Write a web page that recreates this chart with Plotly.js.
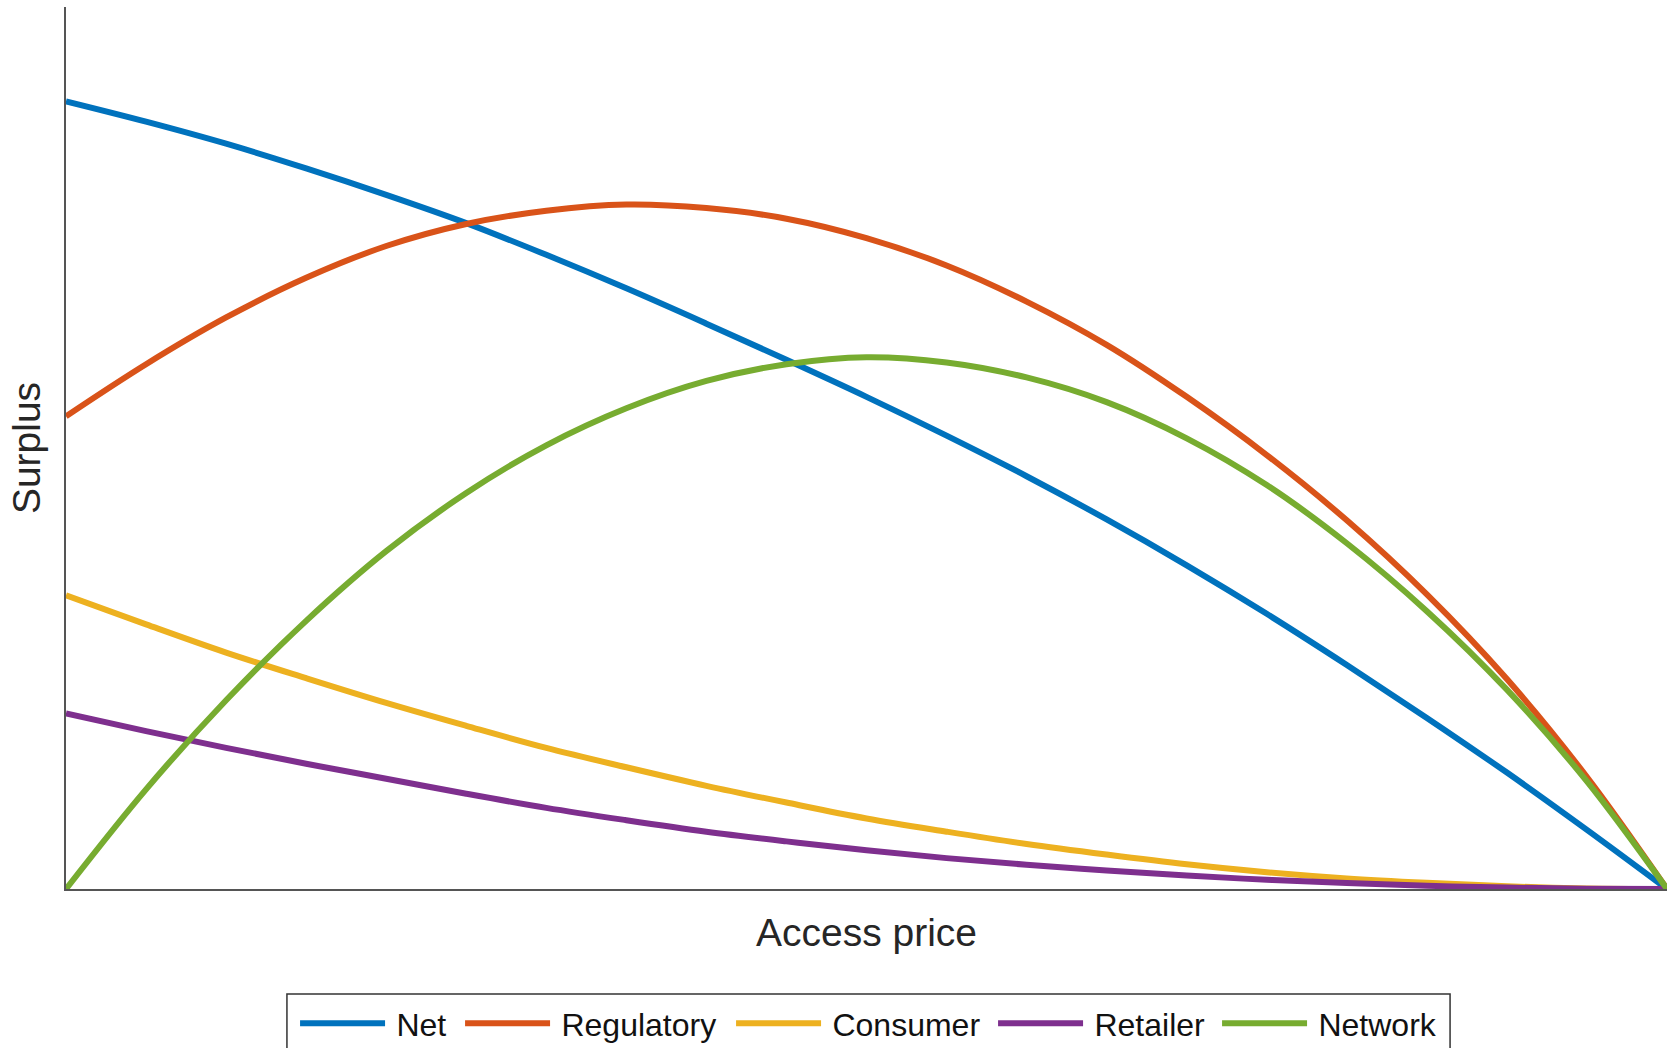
<!DOCTYPE html>
<html>
<head>
<meta charset="utf-8">
<script src="https://cdn.plot.ly/plotly-3.0.1.min.js"></script>
<style>html,body{margin:0;padding:0;background:#fff;}#chart{width:1667px;height:1048px;}</style>
</head>
<body>
<div id="chart"></div>
<script>
// Access price (normalised 0..1)
const accessPrice = [0,0.05,0.1,0.15,0.2,0.25,0.3,0.35,0.4,0.45,0.5,0.55,0.6,0.65,0.7,0.75,0.8,0.85,0.9,0.95,1];
// Surplus series (normalised)
const netSurplus        = [0.893,0.870,0.845,0.817,0.787,0.755,0.719,0.681,0.641,0.600,0.558,0.514,0.468,0.419,0.367,0.312,0.254,0.194,0.132,0.067,0];
const regulatorySurplus = [0.536,0.595,0.648,0.693,0.729,0.754,0.769,0.776,0.772,0.760,0.738,0.707,0.666,0.617,0.558,0.492,0.418,0.334,0.238,0.127,0];
const consumerSurplus   = [0.333,0.300,0.268,0.239,0.211,0.185,0.160,0.138,0.117,0.098,0.080,0.065,0.051,0.039,0.028,0.019,0.012,0.007,0.003,0.0007,0];
const retailerSurplus   = [0.199,0.179,0.160,0.142,0.125,0.108,0.092,0.078,0.065,0.054,0.044,0.035,0.0275,0.021,0.0152,0.0105,0.0068,0.0037,0.0016,0.0004,0];
const networkSurplus    = [0,0.113,0.214,0.304,0.383,0.449,0.503,0.545,0.576,0.595,0.603,0.597,0.580,0.552,0.511,0.458,0.392,0.315,0.226,0.122,0];
const seriesNames = ["Net","Regulatory","Consumer","Retailer","Network"];
const seriesColors = ["#0072BD","#D95319","#EDB120","#7E2F8E","#77AC30"];
const seriesData = [netSurplus, regulatorySurplus, consumerSurplus, retailerSurplus, networkSurplus];
const legendWidths = [65, 171, 162, 124, 132];

const traces = seriesData.map((ys, i) => ({
  x: accessPrice, y: ys, type: "scatter", mode: "lines",
  name: "\u2009" + seriesNames[i],
  legendwidth: legendWidths[i],
  line: {color: seriesColors[i], width: 6, shape: "spline", smoothing: 1}
}));

const fam = "'Liberation Sans', Arial, Helvetica, sans-serif";
const layout = {
  width: 1667, height: 1048,
  margin: {l: 66, r: 0, t: 7, b: 159},
  paper_bgcolor: "#fff", plot_bgcolor: "#fff",
  font: {family: fam, color: "#262626"},
  showlegend: true,
  xaxis: {
    range: [0, 1], showgrid: false, zeroline: false, showticklabels: false, ticks: "",
    showline: true, linecolor: "#555", linewidth: 2,
    title: {text: "Access price", font: {size: 39, family: fam, color: "#262626"}, standoff: 29}
  },
  yaxis: {
    range: [0, 1], showgrid: false, zeroline: false, showticklabels: false, ticks: "",
    showline: true, linecolor: "#555", linewidth: 2,
    title: {text: "Surplus", font: {size: 39, family: fam, color: "#262626"}, standoff: 11}
  },
  legend: {
    orientation: "h", xref: "container", yref: "container",
    x: 0.177, xanchor: "left", y: 0.0496, yanchor: "top",
    borderwidth: 0, bgcolor: "rgba(0,0,0,0)",
    font: {size: 32, family: fam, color: "#111"},
    itemwidth: 85, tracegroupgap: 0
  },
  shapes: [{
    type: "rect", xref: "paper", yref: "paper",
    x0: 0.138, x1: 0.8645, y0: -0.119, y1: -0.2,
    line: {color: "#333", width: 1.5}, fillcolor: "rgba(0,0,0,0)", layer: "below"
  }]
};
Plotly.newPlot("chart", traces, layout, {displayModeBar: false, staticPlot: true});
</script>
</body>
</html>
